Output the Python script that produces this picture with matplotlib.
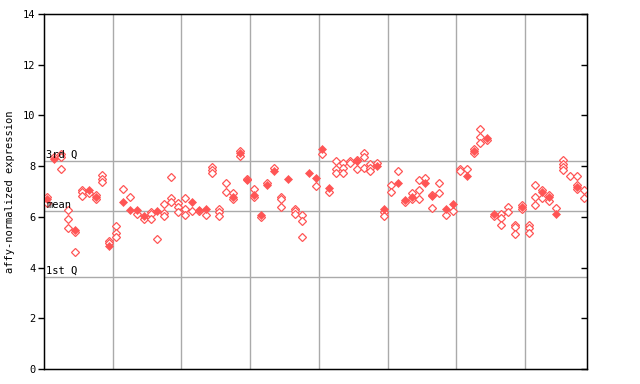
import matplotlib
matplotlib.use("Agg")
import matplotlib.pyplot as plt
import numpy as np

# per-sample values (one column per sample)
filled_vals = [6.7, 8.3, None, None, 5.5, None, 7.05, 6.8, None, 4.85,
               None, 6.6, 6.27, 6.27, 6.02, None, 6.24, None, None, None,
               None, 6.6, 6.28, 6.3, None, None, None, 6.8, 8.5, 7.44,
               6.85, 6.06, 7.24, 7.79, None, 7.48, None, None, 7.71, 7.54,
               8.69, 7.14, None, None, None, 8.2, None, None, 8.0, 6.3,
               None, 7.32, 6.68, 6.8, None, 7.32, 6.82, None, 6.3, 6.52,
               None, 7.61, 8.6, None, 9.11, 6.11, None, None, None, 6.4,
               None, None, 6.99, 6.77, 6.12, None, None, 7.19, None]

hollow_vals = [[6.8, 6.55], [8.37], [8.47, 8.37, 7.87], [6.27, 5.9, 5.55], [5.42, 4.6],
               [7.07, 6.97, 6.82], [6.95], [6.88, 6.72], [7.65, 7.48, 7.38], [5.03, 4.95],
               [5.62, 5.38, 5.22], [7.08], [6.77], [6.1], [5.9],
               [6.19, 6.1, 5.9], [5.11], [6.49, 6.17, 6.05], [7.57, 6.74, 6.58], [6.54, 6.4, 6.19],
               [6.73, 6.3, 6.06], [6.22], [6.22], [6.06], [7.98, 7.86, 7.72],
               [6.3, 6.18, 6.02], [7.32, 7.0], [6.93, 6.7], [8.58, 8.4], [7.5],
               [7.08, 6.77], [5.98], [7.32], [7.93], [6.77, 6.69, 6.38],
               [], [6.32, 6.22, 6.13], [6.06, 5.84, 5.2], [], [7.2],
               [8.46], [6.99], [8.22, 7.87, 7.72], [8.13, 7.93, 7.72], [8.22, 8.14],
               [8.26, 7.87], [8.5, 8.37, 7.91], [8.08, 7.91, 7.82], [8.11], [6.2, 6.03],
               [7.24, 6.98], [7.79], [6.57], [6.93, 6.7], [7.45, 7.06, 6.69],
               [7.52], [6.88, 6.34], [7.32, 6.93], [6.06], [6.22],
               [7.9, 7.79], [7.87], [8.67, 8.5], [9.46, 9.14, 8.9], [9.04],
               [6.03], [6.13, 5.94, 5.67], [6.38, 6.18], [5.67, 5.6, 5.31], [6.45, 6.32],
               [5.67, 5.58, 5.35], [7.24, 6.77, 6.45], [7.06, 6.74], [6.85, 6.64], [6.34],
               [8.24, 8.1, 7.98, 7.85], [7.63], [7.61, 7.25, 7.1], [7.06, 6.73]]

q1, mean_val, q3 = 3.62, 6.22, 8.22
group_bounds = [10, 20, 30, 40, 50, 60, 70]
yticks = [0, 2, 4, 6, 8, 10, 12, 14]

n = len(hollow_vals)
red = "#FF5555"
mono = "DejaVu Sans Mono"

fig = plt.figure(figsize=(6.4, 3.84), dpi=100)
ax = fig.add_axes([44/640, 15/384, 543/640, 355/384])
ax.set_xlim(0, n)
ax.set_ylim(0, 14)

for b in group_bounds:
    ax.axvline(b, color="#AAAAAA", lw=1, zorder=1)
for v in (q1, mean_val, q3):
    ax.axhline(v, color="#AAAAAA", lw=1, zorder=1)

hx, hy = [], []
for i, vals in enumerate(hollow_vals):
    for v in vals:
        hx.append(i + 0.5)
        hy.append(v)
ax.plot(hx, hy, linestyle="none", marker="D", ms=3.6, mfc="white",
        mec=red, mew=0.9, zorder=3)
fx = [i + 0.5 for i, v in enumerate(filled_vals) if v is not None]
fy = [v for v in filled_vals if v is not None]
ax.plot(fx, fy, linestyle="none", marker="D", ms=4.2, mfc=red, mec=red,
        mew=0.5, zorder=4)

ax.text(0.3, q3 + 0.05, "3rd Q", fontsize=7.5, family=mono, va="bottom", ha="left", zorder=5)
ax.text(0.3, mean_val + 0.05, "mean", fontsize=7.5, family=mono, va="bottom", ha="left", zorder=5)
ax.text(0.3, q1 + 0.05, "1st Q", fontsize=7.5, family=mono, va="bottom", ha="left", zorder=5)

ax.set_yticks(yticks)
ax.set_yticklabels([str(t) for t in yticks], family=mono, fontsize=7.5)
ax.tick_params(axis="y", direction="out", length=4, width=1, pad=2, right=True)
ax.set_xticks([])
ax.set_ylabel("affy-normalized expression", family=mono, fontsize=7.5, labelpad=6)
for s in ax.spines.values():
    s.set_color("black")
    s.set_linewidth(1)

# right-side inward ticks
ax2 = ax.twinx()
ax2.set_ylim(0, 14)
ax2.set_yticks(yticks)
ax2.set_yticklabels([])
ax2.tick_params(axis="y", direction="in", length=4, width=1)
ax.tick_params(axis="y", right=False)

fig.savefig("out.png", dpi=100)
